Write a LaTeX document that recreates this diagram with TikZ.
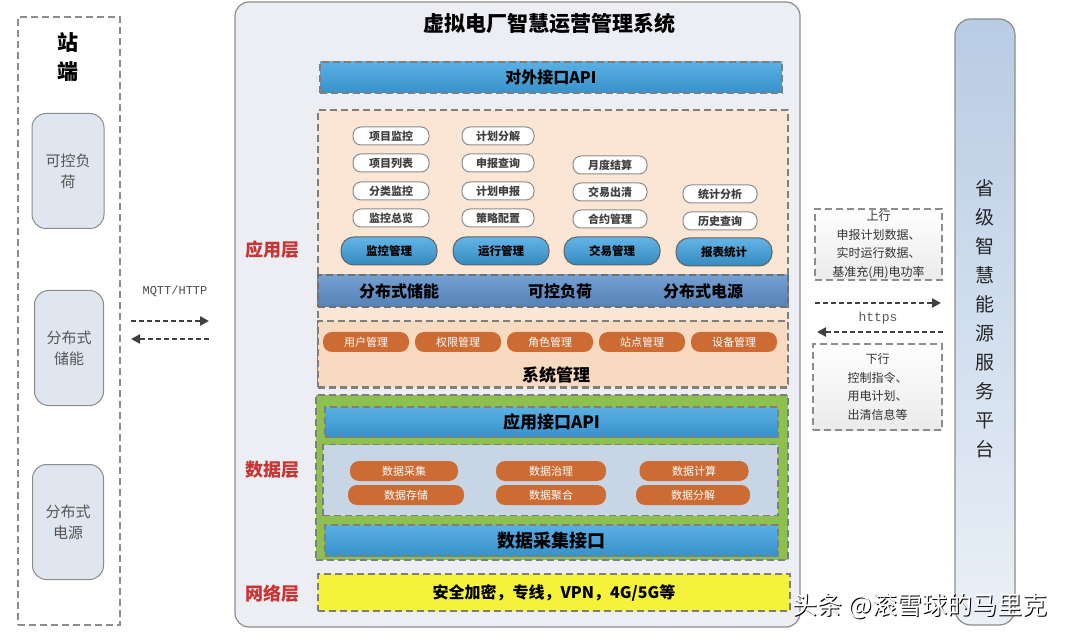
\documentclass[tikz,border=0pt]{standalone}
\usepackage{fontspec}
\setmainfont{Noto Sans CJK SC}
\newfontfamily\monof{Liberation Mono}
\usetikzlibrary{arrows.meta,shadings}
\definecolor{mainbg}{HTML}{ECEEF4}
\definecolor{frame}{HTML}{8C8C8C}
\definecolor{barblue}{HTML}{3DA2E0}
\definecolor{peach}{HTML}{FBE5D5}
\definecolor{peachdark}{HTML}{F8DAC0}
\definecolor{bandblue}{HTML}{5D8FCB}
\definecolor{orangep}{HTML}{CC6C34}
\definecolor{greenl}{HTML}{8DC04C}
\definecolor{grayblue}{HTML}{C8D5E4}
\definecolor{yell}{HTML}{F5F23C}
\definecolor{redl}{HTML}{C83434}
\definecolor{stbox}{HTML}{DFE6F0}
\definecolor{txtgray}{HTML}{555555}
\definecolor{plattop}{HTML}{B8CCE4}
\definecolor{platbot}{HTML}{EAF0F7}
\tikzset{
  dbox/.style={draw=frame!90!black, dashed, dash pattern=on 7pt off 4pt, line width=1.2pt, inner sep=0pt},
  bar/.style={dbox, top color=barblue!85!white, bottom color=barblue!90!black, font=\fontsize{16}{18}\selectfont\bfseries},
  wpill/.style={draw=frame, line width=1pt, rounded corners=8pt, fill=white, inner sep=0pt, minimum width=76pt, minimum height=18pt, font=\fontsize{11}{12}\selectfont\bfseries, text=black!75},
  bpill/.style={draw=frame!70!black, line width=1pt, rounded corners=13pt, top color=barblue!80!white, bottom color=barblue!85!black, inner sep=0pt, minimum width=96pt, minimum height=28pt, font=\fontsize{11.5}{12}\selectfont\bfseries},
  opill/.style={fill=orangep, rounded corners=9pt, inner sep=0pt, minimum height=20pt, text=white, font=\fontsize{11}{12}\selectfont},
  layer/.style={text=redl, font=\fontsize{18}{20}\selectfont\bfseries},
  stnode/.style={draw=frame, line width=1pt, rounded corners=14pt, fill=stbox, inner sep=0pt, minimum width=72pt, minimum height=115pt, text=txtgray, font=\fontsize{15}{21}\selectfont, align=center},
  darr/.style={line width=2.6pt, dash pattern=on 5pt off 3pt, draw=black!75, -{Triangle[length=9pt,width=9pt]}},
  infobox/.style={dbox, draw=frame, top color=white, bottom color=black!8, align=center, font=\fontsize{12}{18.5}\selectfont, text=black!80}
}
\begin{document}
\begin{tikzpicture}[x=1pt,y=-1pt]
\useasboundingbox (0,0) rectangle (1080,639);
\fill[white] (0,0) rectangle (1080,639);
% left station box
\node[dbox, draw=frame, minimum width=102pt, minimum height=608pt] (station) at (69,321) {};
\node[font=\fontsize{21}{29}\selectfont\bfseries, align=center] (stt) at (68,57) {站\\端};
\node[stnode] (s1) at (68,171) {可控负\\荷};
\node[stnode, minimum width=69pt] (s2) at (69,348) {分布式\\储能};
\node[stnode, minimum width=71pt] (s3) at (68,522) {分布式\\电源};
% MQTT arrows
\node[font=\monof\fontsize{12}{14}\selectfont, text=black!70] (mqtt) at (175,291) {MQTT/HTTP};
\coordinate (ma) at (131,321); \coordinate (mb) at (209,321);
\coordinate (mc) at (209,339); \coordinate (md) at (131,339);
\draw[darr] (ma) -- (mb);
\draw[darr] (mc) -- (md);
% main system box
\node[draw=frame, line width=1.2pt, rounded corners=14pt, fill=mainbg, minimum width=565pt, minimum height=625pt, inner sep=0pt] (main) at (517.5,314.5) {};
\node[font=\fontsize{21}{24}\selectfont\bfseries] (title) at (549,24) {虚拟电厂智慧运营管理系统};
\node[bar, minimum width=462pt, minimum height=31pt] (extapi) at (551,77.5) {对外接口API};
% application layer
\node[dbox, fill=peach, minimum width=470pt, minimum height=278pt] (app) at (553,249) {};
\node[dbox, fill=peachdark, minimum width=470pt, minimum height=66pt] (sys) at (553,354) {};
\node[dbox, draw=frame!80!black, top color=bandblue!85!white, bottom color=bandblue!90!black, minimum width=470pt, minimum height=32pt] (band) at (553,291) {};
\node[font=\fontsize{16}{18}\selectfont\bfseries] (b1) at (399,291) {分布式储能};
\node[font=\fontsize{16}{18}\selectfont\bfseries] (b2) at (560,291) {可控负荷};
\node[font=\fontsize{16}{18}\selectfont\bfseries] (b3) at (703,291) {分布式电源};
\node[layer] (l1) at (272,250) {应用层};
% white pills
\node[wpill] (p11) at (391,136) {项目监控};
\node[wpill] (p12) at (391,163) {项目列表};
\node[wpill] (p13) at (391,191) {分类监控};
\node[wpill] (p14) at (391,218) {监控总览};
\node[wpill, minimum width=72pt] (p21) at (498,136) {计划分解};
\node[wpill, minimum width=72pt] (p22) at (498,163) {申报查询};
\node[wpill, minimum width=72pt] (p23) at (498,191) {计划申报};
\node[wpill, minimum width=72pt] (p24) at (498,218) {策略配置};
\node[wpill, minimum width=74pt] (p31) at (610,165) {月度结算};
\node[wpill, minimum width=74pt] (p32) at (610,192) {交易出清};
\node[wpill, minimum width=74pt] (p33) at (610,219) {合约管理};
\node[wpill, minimum width=74pt] (p41) at (720,194) {统计分析};
\node[wpill, minimum width=74pt] (p42) at (720,221) {历史查询};
\node[bpill] (m1) at (389,251) {监控管理};
\node[bpill] (m2) at (501,251) {运行管理};
\node[bpill] (m3) at (612,251) {交易管理};
\node[bpill] (m4) at (724,252) {报表统计};
% system management
\node[opill, minimum width=86pt] (o1) at (366,342) {用户管理};
\node[opill, minimum width=86pt] (o2) at (458,342) {权限管理};
\node[opill, minimum width=86pt] (o3) at (550,342) {角色管理};
\node[opill, minimum width=86pt] (o4) at (642,342) {站点管理};
\node[opill, minimum width=86pt] (o5) at (734,342) {设备管理};
\node[font=\fontsize{17}{20}\selectfont\bfseries] (sysl) at (556,375) {系统管理};
% data layer
\node[dbox, fill=greenl, minimum width=472pt, minimum height=165pt] (data) at (552,477.5) {};
\node[bar, minimum width=453pt, minimum height=30pt, font=\fontsize{17}{20}\selectfont\bfseries] (appapi) at (551.5,422) {应用接口API};
\node[dbox, fill=grayblue, minimum width=455pt, minimum height=71pt] (dcore) at (550.5,480) {};
\node[opill, minimum width=108pt] (d1) at (404,471) {数据采集};
\node[opill, minimum width=110pt] (d2) at (551,471) {数据治理};
\node[opill, minimum width=109pt] (d3) at (694,471) {数据计算};
\node[opill, minimum width=116pt] (d4) at (406,495) {数据存储};
\node[opill, minimum width=110pt] (d5) at (551,495) {数据聚合};
\node[opill, minimum width=114pt] (d6) at (693,495) {数据分解};
\node[bar, minimum width=453pt, minimum height=31pt, font=\fontsize{18}{20}\selectfont\bfseries] (dcol) at (551.5,540.5) {数据采集接口};
\node[layer] (l2) at (272,470) {数据层};
% network layer
\node[dbox, fill=yell, minimum width=472pt, minimum height=37pt, font=\fontsize{16}{18}\selectfont\bfseries] (net) at (554,592.5) {安全加密，专线，VPN，4G/5G等};
\node[layer] (l3) at (272,594) {网络层};
% right side
\node[infobox, minimum width=127pt, minimum height=71pt] (up) at (878.5,244.5) {上行\\申报计划数据、\\实时运行数据、\\基准充(用)电功率};
\coordinate (ha) at (815,303); \coordinate (hb) at (941,303);
\coordinate (hc) at (943,332); \coordinate (hd) at (817,332);
\draw[darr] (ha) -- (hb);
\draw[darr] (hc) -- (hd);
\node[font=\monof\fontsize{13}{14}\selectfont, text=black!65] (https) at (878,318) {https};
\node[infobox, minimum width=129pt, minimum height=86pt] (down) at (877.5,387) {下行\\控制指令、\\用电计划、\\出清信息等};
\node[draw=frame, line width=1.2pt, rounded corners=16pt, top color=plattop, bottom color=platbot, minimum width=60pt, minimum height=606pt, inner sep=0pt] (plat) at (985,322) {};
\node[font=\fontsize{19}{29}\selectfont, align=center, text=black!85] (platl) at (985,319) {省\\级\\智\\慧\\能\\源\\服\\务\\平\\台};
% watermark
\node[font=\fontsize{25}{28}\selectfont, text=black] (wm0) at (921,607) {头条 @滚雪球的马里克};
\node[font=\fontsize{25}{28}\selectfont, text=white] (wm) at (920,606) {头条 @滚雪球的马里克};
\end{tikzpicture}
\end{document}
